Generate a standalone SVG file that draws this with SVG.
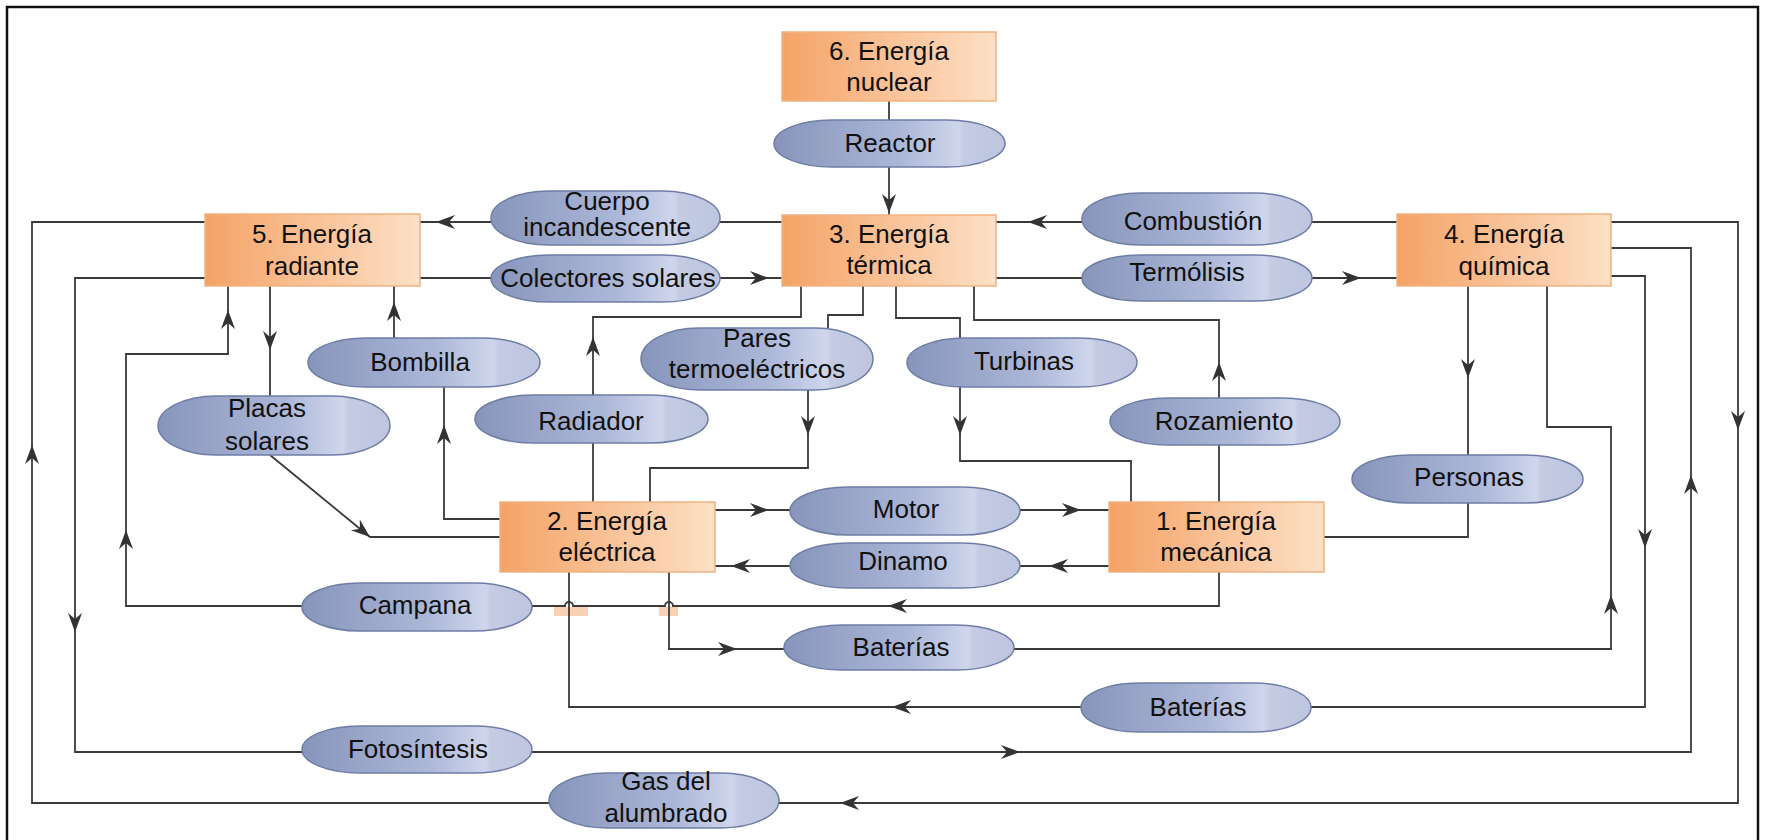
<svg xmlns="http://www.w3.org/2000/svg" xmlns:xlink="http://www.w3.org/1999/xlink" width="1765" height="840" viewBox="0 0 1765 840">
<defs>
<linearGradient id="gBox" x1="0" y1="0" x2="1" y2="0">
<stop offset="0" stop-color="#f4a366"/>
<stop offset="0.5" stop-color="#f9c196"/>
<stop offset="1" stop-color="#fde0c6"/>
</linearGradient>
<linearGradient id="gPill" x1="0" y1="0" x2="1" y2="0">
<stop offset="0" stop-color="#8795bb"/>
<stop offset="0.55" stop-color="#acb7d8"/>
<stop offset="0.8" stop-color="#cfd6ec"/>
<stop offset="0.82" stop-color="#c4cbe3"/>
<stop offset="1" stop-color="#bdc5df"/>
</linearGradient>
<path id="ah" d="M0,0 L-19,-7 L-13,0 L-19,7 Z" fill="#333"/>
<style>
.box{fill:url(#gBox);stroke:#efb283;stroke-width:1.5}
.pill{fill:url(#gPill);stroke:#6f7da5;stroke-width:1.5}
.t{font-family:"Liberation Sans",Arial,sans-serif;font-size:26px;fill:#111;text-anchor:middle}
.c{fill:none;stroke:#3a3a3a;stroke-width:1.8}
.hop{fill:#f7c7a2;opacity:0.8}
</style>
</defs>
<rect x="0" y="0" width="1765" height="840" fill="#fff"/>
<rect x="7" y="7" width="1751" height="850" fill="none" stroke="#111" stroke-width="2.5"/>

<g id="connectors">
<rect class="hop" x="554" y="607" width="34" height="9"/>
<rect class="hop" x="659" y="607" width="19" height="9"/>
<path class="c" d="M889,101 V120"/>
<path class="c" d="M889,167 V215"/>
<path class="c" d="M782,222 H720"/>
<path class="c" d="M491,222 H420"/>
<path class="c" d="M420,278 H491"/>
<path class="c" d="M720,278 H782"/>
<path class="c" d="M1397,222 H1312"/>
<path class="c" d="M1082,222 H996"/>
<path class="c" d="M996,278 H1082"/>
<path class="c" d="M1312,278 H1397"/>
<path class="c" d="M549,803 H32 V222 H205"/>
<path class="c" d="M1611,222 H1738 V803 H779"/>
<path class="c" d="M205,278 H75 V752 H302"/>
<path class="c" d="M532,752 H1691 V248 H1611"/>
<path class="c" d="M1611,276 H1645 V707 H1311"/>
<path class="c" d="M1081,707 H569 V572"/>
<path class="c" d="M669,572 V649 H784"/>
<path class="c" d="M1014,649 H1611 V427 H1547 V286"/>
<path class="c" d="M1468,286 V455"/>
<path class="c" d="M1468,503 V537 H1324"/>
<path class="c" d="M1219,572 V606 H673 a4,4 0 0 0 -8,0 H573 a4,4 0 0 0 -8,0 H532"/>
<path class="c" d="M302,606 H126 V354 H228 V286"/>
<path class="c" d="M270,286 V396"/>
<path class="c" d="M270,455 L370,537 H500"/>
<path class="c" d="M500,519 H444 V387"/>
<path class="c" d="M394,338 V286"/>
<path class="c" d="M593,502 V443"/>
<path class="c" d="M593,395 V317 H801 V286"/>
<path class="c" d="M863,286 V315 H828 V328"/>
<path class="c" d="M808,390 V468 H650 V502"/>
<path class="c" d="M896,286 V318 H960 V338"/>
<path class="c" d="M960,387 V461 H1131 V502"/>
<path class="c" d="M1219,502 V445"/>
<path class="c" d="M1219,398 V320 H974 V286"/>
<path class="c" d="M715,510 H790"/>
<path class="c" d="M1020,510 H1109"/>
<path class="c" d="M1109,566 H1020"/>
<path class="c" d="M790,566 H715"/>
<use xlink:href="#ah" transform="translate(889,213) rotate(90)"/>
<use xlink:href="#ah" transform="translate(436,222) rotate(180)"/>
<use xlink:href="#ah" transform="translate(769,278)"/>
<use xlink:href="#ah" transform="translate(1028,222) rotate(180)"/>
<use xlink:href="#ah" transform="translate(1361,278)"/>
<use xlink:href="#ah" transform="translate(270,350) rotate(90)"/>
<use xlink:href="#ah" transform="translate(228,310) rotate(-90)"/>
<use xlink:href="#ah" transform="translate(394,302) rotate(-90)"/>
<use xlink:href="#ah" transform="translate(593,337) rotate(-90)"/>
<use xlink:href="#ah" transform="translate(444,425) rotate(-90)"/>
<use xlink:href="#ah" transform="translate(808,435) rotate(90)"/>
<use xlink:href="#ah" transform="translate(960,435) rotate(90)"/>
<use xlink:href="#ah" transform="translate(1219,362) rotate(-90)"/>
<use xlink:href="#ah" transform="translate(769,510)"/>
<use xlink:href="#ah" transform="translate(1081,510)"/>
<use xlink:href="#ah" transform="translate(1049,566) rotate(180)"/>
<use xlink:href="#ah" transform="translate(731,566) rotate(180)"/>
<use xlink:href="#ah" transform="translate(370,537) rotate(39.4)"/>
<use xlink:href="#ah" transform="translate(888,606) rotate(180)"/>
<use xlink:href="#ah" transform="translate(126,530) rotate(-90)"/>
<use xlink:href="#ah" transform="translate(737,649)"/>
<use xlink:href="#ah" transform="translate(1611,595) rotate(-90)"/>
<use xlink:href="#ah" transform="translate(1645,548) rotate(90)"/>
<use xlink:href="#ah" transform="translate(892,707) rotate(180)"/>
<use xlink:href="#ah" transform="translate(75,632) rotate(90)"/>
<use xlink:href="#ah" transform="translate(1020,752)"/>
<use xlink:href="#ah" transform="translate(1691,475) rotate(-90)"/>
<use xlink:href="#ah" transform="translate(1738,430) rotate(90)"/>
<use xlink:href="#ah" transform="translate(840,803) rotate(180)"/>
<use xlink:href="#ah" transform="translate(32,445) rotate(-90)"/>
<use xlink:href="#ah" transform="translate(1468,378) rotate(90)"/>
</g>

<g id="n6"><rect class="box" x="782" y="32" width="214" height="69"/><text class="t" x="889" y="60">6. Energía</text><text class="t" x="889" y="91">nuclear</text></g>
<g id="n3"><rect class="box" x="782" y="215" width="214" height="71"/><text class="t" x="889" y="243">3. Energía</text><text class="t" x="889" y="274">térmica</text></g>
<g id="n5"><rect class="box" x="205" y="214" width="215" height="72"/><text class="t" x="312" y="243">5. Energía</text><text class="t" x="312" y="275">radiante</text></g>
<g id="n4"><rect class="box" x="1397" y="214" width="214" height="72"/><text class="t" x="1504" y="243">4. Energía</text><text class="t" x="1504" y="275">química</text></g>
<g id="n2"><rect class="box" x="500" y="502" width="215" height="70"/><text class="t" x="607" y="530">2. Energía</text><text class="t" x="607" y="561">eléctrica</text></g>
<g id="n1"><rect class="box" x="1109" y="502" width="215" height="70"/><text class="t" x="1216" y="530">1. Energía</text><text class="t" x="1216" y="561">mecánica</text></g>

<g id="reactor"><rect class="pill" x="774" y="120" width="231" height="47" rx="58" ry="23.5"/><text class="t" x="890" y="152">Reactor</text></g>
<g id="cuerpo"><rect class="pill" x="491" y="191" width="229" height="54" rx="58" ry="27"/><text class="t" x="607" y="210">Cuerpo</text><text class="t" x="607" y="236">incandescente</text></g>
<g id="colectores"><rect class="pill" x="491" y="255" width="229" height="47" rx="58" ry="23.5"/><text class="t" x="608" y="287">Colectores solares</text></g>
<g id="combustion"><rect class="pill" x="1082" y="193" width="230" height="52" rx="58" ry="26"/><text class="t" x="1193" y="230">Combustión</text></g>
<g id="termolisis"><rect class="pill" x="1082" y="255" width="230" height="46" rx="58" ry="23"/><text class="t" x="1187" y="281">Termólisis</text></g>
<g id="bombilla"><rect class="pill" x="308" y="338" width="232" height="49" rx="58" ry="24.5"/><text class="t" x="420" y="371">Bombilla</text></g>
<g id="placas"><rect class="pill" x="158" y="396" width="232" height="59" rx="58" ry="29.5"/><text class="t" x="267" y="417">Placas</text><text class="t" x="267" y="450">solares</text></g>
<g id="radiador"><rect class="pill" x="475" y="395" width="233" height="48" rx="58" ry="24"/><text class="t" x="591" y="430">Radiador</text></g>
<g id="pares"><rect class="pill" x="641" y="328" width="232" height="62" rx="58" ry="31"/><text class="t" x="757" y="347">Pares</text><text class="t" x="757" y="378">termoeléctricos</text></g>
<g id="turbinas"><rect class="pill" x="907" y="338" width="230" height="49" rx="58" ry="24.5"/><text class="t" x="1024" y="370">Turbinas</text></g>
<g id="rozamiento"><rect class="pill" x="1110" y="398" width="230" height="47" rx="58" ry="23.5"/><text class="t" x="1224" y="430">Rozamiento</text></g>
<g id="personas"><rect class="pill" x="1352" y="455" width="231" height="48" rx="58" ry="24"/><text class="t" x="1469" y="486">Personas</text></g>
<g id="motor"><rect class="pill" x="790" y="487" width="230" height="48" rx="58" ry="24"/><text class="t" x="906" y="518">Motor</text></g>
<g id="dinamo"><rect class="pill" x="790" y="543" width="230" height="45" rx="58" ry="22.5"/><text class="t" x="903" y="570">Dinamo</text></g>
<g id="campana"><rect class="pill" x="302" y="583" width="230" height="48" rx="58" ry="24"/><text class="t" x="415" y="614">Campana</text></g>
<g id="baterias1"><rect class="pill" x="784" y="625" width="230" height="45" rx="58" ry="22.5"/><text class="t" x="901" y="656">Baterías</text></g>
<g id="baterias2"><rect class="pill" x="1081" y="683" width="230" height="49" rx="58" ry="24.5"/><text class="t" x="1198" y="716">Baterías</text></g>
<g id="fotosintesis"><rect class="pill" x="302" y="726" width="230" height="47" rx="58" ry="23.5"/><text class="t" x="418" y="758">Fotosíntesis</text></g>
<g id="gas"><rect class="pill" x="549" y="773" width="230" height="55" rx="58" ry="27.5"/><text class="t" x="666" y="790">Gas del</text><text class="t" x="666" y="822">alumbrado</text></g>
</svg>
